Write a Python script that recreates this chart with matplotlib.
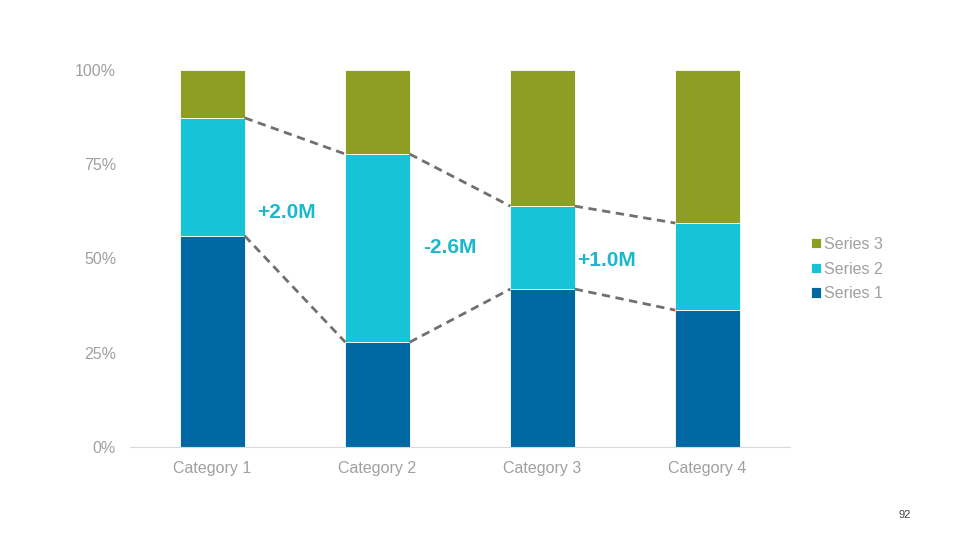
import matplotlib.pyplot as plt
import numpy as np

plt.rcParams['font.family'] = ['Liberation Sans', 'DejaVu Sans']

categories = ['Category 1', 'Category 2', 'Category 3', 'Category 4']
series1 = [0.56, 0.278, 0.419, 0.363]
series2 = [0.313, 0.499, 0.220, 0.231]
series3 = [0.127, 0.223, 0.361, 0.406]
change_labels = ['+2.0M', '-2.6M', '+1.0M']

c1 = '#0069A3'
c2 = '#17C3D6'
c3 = '#8E9E22'
grey = '#A0A0A0'

fig = plt.figure(figsize=(9.6, 5.4), dpi=100)
ax = fig.add_axes([130/960, 1 - 447/540, 660/960, 377/540])

x = np.arange(len(categories))
w = 0.39
s1 = np.array(series1)
s2 = np.array(series2)
s3 = np.array(series3)
ax.bar(x, s1, w, color=c1, label='Series 1', edgecolor='white', linewidth=0.6)
ax.bar(x, s2, w, bottom=s1, color=c2, label='Series 2', edgecolor='white', linewidth=0.6)
ax.bar(x, s3, w, bottom=s1 + s2, color=c3, label='Series 3', edgecolor='white', linewidth=0.6)

# dashed connectors between bars
for tops in (s1, s1 + s2):
    for i in range(len(x) - 1):
        ax.plot([x[i] + w/2, x[i+1] - w/2], [tops[i], tops[i+1]],
                ls=(0, (3, 2)), color='#707070', lw=2, zorder=3)

# change labels between bars
label_pos = [(0.45, 0.623), (1.436, 0.528), (2.39, 0.496)]
for (lx, ly), t in zip(label_pos, change_labels):
    ax.text(lx, ly, t, color='#1BB8CC', fontsize=15, fontweight='bold',
            ha='center', va='center')

ax.set_xlim(-0.5, 3.5)
ax.set_ylim(0, 1)
ax.set_yticks([0, 0.25, 0.5, 0.75, 1.0])
ax.set_yticklabels(['0%', '25%', '50%', '75%', '100%'])
ax.set_xticks(x)
ax.set_xticklabels(categories)
ax.tick_params(axis='both', length=0, colors=grey, labelsize=11.5)
ax.tick_params(axis='y', pad=10)
ax.tick_params(axis='x', pad=10)
for s in ['top', 'right', 'left']:
    ax.spines[s].set_visible(False)
ax.spines['bottom'].set_color('#D9D9D9')

handles, labels = ax.get_legend_handles_labels()
leg = fig.legend(handles[::-1], labels[::-1], loc='center left',
                 bbox_to_anchor=(797/960, 1 - 269/540), frameon=False,
                 fontsize=11.5, handlelength=0.6, handleheight=0.6,
                 handletextpad=0.2, labelspacing=0.6)
for t in leg.get_texts():
    t.set_color(grey)

fig.text(905/960, 1 - 515/540, '92', fontsize=8, color='#404040',
         ha='center', va='center')

fig.savefig('out.png', dpi=100)
